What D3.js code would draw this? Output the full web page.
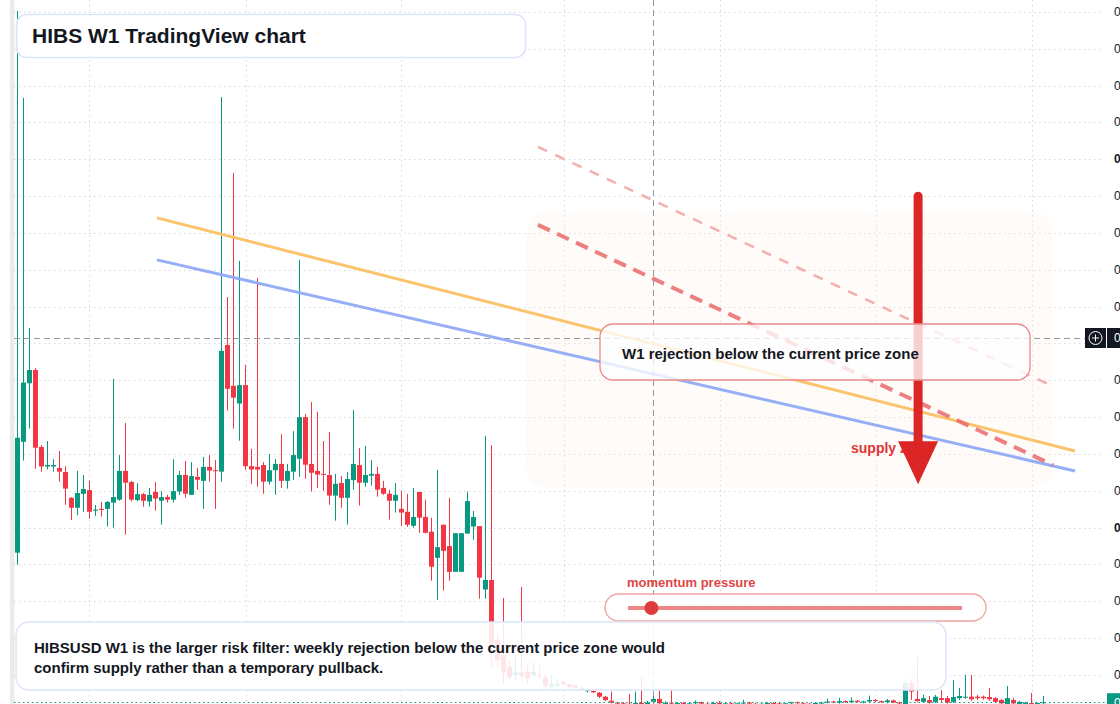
<!DOCTYPE html>
<html><head><meta charset="utf-8">
<script src="https://cdn.jsdelivr.net/npm/d3@7"></script>
<style>html,body{margin:0;padding:0;background:#fff;overflow:hidden}svg{display:block}</style>
</head><body>
<svg id="c" width="1120" height="704"></svg>
<script>
// HIBSUSD weekly candles, prices in millionths of USD (1e-6)
const openP = [43.2,73.3,89.2,92.8,71.9,66.6,66.6,66.2,65.1,58.1,
55.4,59.2,60.2,54.6,55.1,55.1,56.8,57.6,65.4,62.4,
57.5,59.1,57.1,59.7,57.3,58.3,57.6,59.8,64.3,58.9,
63.8,62.7,66.5,65.6,65.2,99.6,88.5,83.7,88.7,66.7,
66.5,67.0,62.5,65.6,67.3,62.7,65.2,68.7,80.0,67.3,
65.4,64.6,64.3,58.7,62.1,58.1,62.9,67.0,62.2,64.1,
64.6,60.8,59.2,57.3,55.1,54.3,50.5,59.7,52.9,48.9,
41.8,50.8,45.0,38.0,38.0,48.4,50.3,50.4,33.2,35.8,
19.5,15.4,12.2,10.0,10.8,10.9,10.0,10.0,9.4,6.8,
7.0,8.1,7.5,7.3,6.5,5.6,5.7,5.2,4.1,3.0,
2.5,2.3,2.2,2.0,2.4,2.1,2.7,3.5,2.1,2.5,
2.2,2.4,2.1,2.3,2.6,2.2,2.0,2.4,2.2,2.3,
2.1,2.3,2.5,2.2,2.1,2.2,2.4,2.3,2.1,2.3,
2.6,2.3,2.2,2.0,2.4,2.5,2.8,2.5,2.9,2.6,
3.0,2.7,2.8,3.2,2.9,2.6,3.1,2.5,2.1,7.8,
3.5,2.7,3.2,2.7,3.7,3.7,2.7,3.7,4.0,4.1,
4.1,4.1,4.0,3.7,3.2,2.1,3.2,2.1,2.1,2.4,
2.2,2.4];
const highP = [190.3,166.7,104.2,93.3,72.4,73.5,68.6,70.8,66.7,58.3,
65.4,64.3,62.7,56.1,57.0,57.2,90.4,69.7,78.4,62.7,
62.1,59.4,60.8,62.4,59.9,58.9,68.6,65.4,68.1,67.8,
66.2,69.2,69.7,68.4,166.9,112.6,146.3,122.4,94.2,71.4,
117.8,67.8,70.0,68.6,75.4,67.3,76.2,122.7,80.9,84.1,
81.4,73.5,76.0,64.6,64.0,65.1,81.9,71.6,72.2,68.4,
66.5,62.7,60.3,62.1,60.0,59.2,60.8,59.7,57.6,52.7,
65.7,50.8,58.1,48.5,48.5,59.8,54.5,50.4,74.9,72.4,
21.1,30.9,13.9,15.4,33.9,12.7,13.5,12.7,10.2,10.0,
8.6,8.4,7.8,7.3,6.7,6.5,5.9,5.4,4.3,5.5,
2.7,2.6,4.8,5.5,9.4,3.0,4.3,5.9,2.9,6.3,
2.6,2.7,2.5,3.1,2.8,2.4,2.6,2.9,2.5,2.5,
2.4,3.3,2.7,2.4,2.3,2.6,2.6,2.5,2.4,2.7,
2.8,2.5,2.4,2.5,2.7,3.6,3.0,3.8,3.1,3.9,
3.2,3.0,4.4,3.4,3.1,3.5,3.3,2.8,8.6,8.9,
15.0,4.6,4.3,4.6,5.9,4.3,8.6,6.5,10.0,10.0,
4.6,4.4,6.5,4.0,3.5,7.0,3.7,3.0,2.7,5.1,
2.5,4.3];
const lowP = [39.9,68.2,76.9,66.0,65.2,65.8,65.2,62.5,56.2,52.1,
53.4,54.3,52.4,53.2,53.0,50.3,50.0,57.3,48.1,57.1,
57.2,55.7,55.7,54.6,50.8,56.8,56.8,58.9,58.1,58.9,
60.3,55.1,62.5,55.1,62.5,81.8,76.9,73.6,65.7,61.9,
61.1,59.2,61.7,58.9,60.8,60.6,63.0,63.8,63.3,59.8,
60.8,60.0,56.2,51.9,55.4,50.8,60.3,56.0,61.1,61.4,
58.4,58.9,52.2,54.1,50.5,50.2,50.0,48.6,48.4,35.6,
30.4,32.9,35.6,38.0,38.0,48.4,46.7,30.7,30.7,11.9,
12.4,7.5,8.6,8.6,8.8,7.5,9.4,9.2,5.9,6.5,
6.7,7.0,6.5,6.2,5.9,5.3,5.1,3.7,2.9,2.3,
2.0,1.9,1.8,1.8,1.8,1.9,2.2,2.0,1.9,1.9,
1.9,2.0,1.9,2.1,2.0,1.9,1.8,2.1,1.9,2.0,
1.8,2.1,2.0,1.9,1.8,2.0,2.1,2.0,1.9,2.1,
2.2,2.0,1.9,1.8,2.2,2.3,2.3,2.2,2.4,2.4,
2.5,2.3,2.5,2.6,2.4,2.3,2.4,2.1,2.1,3.2,
2.6,2.4,2.2,2.4,2.7,2.2,2.4,3.2,3.5,3.0,
3.2,3.3,3.0,2.4,2.0,2.0,2.0,1.9,1.9,2.0,
2.1,2.0];
const closeP = [74.4,89.4,92.8,71.7,66.6,67.0,67.0,65.2,60.6,55.4,
59.4,60.5,54.3,54.9,54.8,57.0,58.3,65.4,62.2,57.6,
59.1,57.3,58.9,57.9,58.3,57.6,59.9,64.3,59.2,64.0,
63.0,66.5,65.5,65.5,98.0,87.7,85.3,88.7,66.7,65.8,
65.8,62.5,65.6,67.3,62.7,65.4,69.7,80.0,67.1,64.9,
64.4,64.4,58.7,61.9,58.1,63.2,67.3,62.2,64.3,64.6,
60.3,59.2,57.3,58.9,54.1,50.8,52.9,52.7,48.6,39.4,
44.7,43.7,38.0,48.5,48.5,57.2,52.9,36.4,35.8,18.1,
14.0,10.8,9.4,10.8,9.7,9.2,10.8,9.7,7.0,7.5,
7.5,7.5,6.7,6.5,6.2,5.9,5.3,4.1,3.2,2.5,
2.2,2.1,2.0,2.4,2.1,2.5,3.5,2.3,2.4,2.2,
2.4,2.1,2.3,2.6,2.2,2.0,2.4,2.2,2.3,2.1,
2.3,2.5,2.2,2.1,2.2,2.4,2.3,2.1,2.3,2.6,
2.3,2.2,2.0,2.4,2.5,2.8,2.5,2.9,2.6,3.0,
2.7,2.8,3.2,2.9,2.6,3.1,2.5,2.3,7.8,5.5,
2.9,3.7,2.5,4.1,3.2,2.5,4.0,4.3,4.1,3.4,
3.7,3.7,3.4,2.7,2.3,3.7,2.3,2.7,2.5,2.2,
2.4,2.6];

const tickValues = [10,20,30,40,50,60,70,80,90,100,110,120,130,140,150,160,170,180,190];
const tickLabels = ["0.00001000","0.00002000","0.00003000","0.00004000","0.00005000","0.00006000","0.00007000","0.00008000","0.00009000","0.00010000","0.00011000","0.00012000","0.00013000","0.00014000","0.00015000","0.00016000","0.00017000","0.00018000","0.00019000"];
const timeGridIdx = [11.9, 38, 64, 91, 117, 143, 169];
const lastPrice = 2.6, lastLabel = "0.00000260";
const crossIdx = 105.9, crossPrice = 101.4, crossLabel = "0.00010140";

// drawings: [startIdx, startPrice, endIdx, endPrice]
const trendOrange = [23.25, 134.1, 176.25, 70.8];
const trendBlue   = [23.25, 122.7, 176.25, 65.4];
const dashStrong  = [86.75, 132.2, 172.6, 67.0];
const dashLight   = [86.75, 153.4, 172.4, 88.5];
const zoneBox     = [84.9, 135.7, 172.4, 61.0];
const arrowDown   = [150.1, 140.0, 61.8];

const titleText = "HIBS W1 TradingView chart";
const noteText = "W1 rejection below the current price zone";
const zoneText = "supply zone";
const momentumText = "momentum pressure";
const momentumValue = 0.07;
const bodyLines = ["HIBSUSD W1 is the larger risk filter: weekly rejection below the current price zone would",
                   "confirm supply rather than a temporary pullback."];

const N = openP.length;
const svg = d3.select('#c');
const font = '"Liberation Sans", Arial, sans-serif';
const UP = '#089981', DN = '#f23645';
const x = d3.scaleLinear().domain([0, N-1]).range([17.5, 17.5 + 6*(N-1)]);
const y = d3.scaleLinear().domain([0, 190]).range([711.8, 12]);

svg.append('rect').attr('width',1120).attr('height',704).attr('fill','#fff');
svg.append('rect').attr('x',10).attr('y',0).attr('width',4.5).attr('height',704).attr('fill','#ebebeb');

// grid
const grid = svg.append('g');
grid.selectAll('line.h').data(tickValues).join('line')
  .attr('x1',14).attr('x2',1103).attr('y1',d=>Math.round(y(d))+0.5).attr('y2',d=>Math.round(y(d))+0.5)
  .attr('stroke','#d6d8dc').attr('stroke-width',1).attr('stroke-dasharray','1.5,3.5');
grid.selectAll('line.v').data(timeGridIdx).join('line')
  .attr('x1',d=>Math.round(x(d))+0.5).attr('x2',d=>Math.round(x(d))+0.5).attr('y1',0).attr('y2',704)
  .attr('stroke','#d6d8dc').attr('stroke-width',1).attr('stroke-dasharray','1.5,3.5');

// zone box
svg.append('rect').attr('x',x(zoneBox[0])).attr('y',y(zoneBox[1]))
  .attr('width',x(zoneBox[2])-x(zoneBox[0])).attr('height',y(zoneBox[3])-y(zoneBox[1]))
  .attr('rx',18).attr('fill','#fdf3ea').attr('opacity',0.3);

// candles
const idx = d3.range(N);
const cg = svg.append('g');
cg.selectAll('line').data(idx).join('line')
  .attr('x1',i=>x(i)).attr('x2',i=>x(i)).attr('y1',i=>y(highP[i])).attr('y2',i=>y(lowP[i]))
  .attr('stroke',i=>closeP[i]>=openP[i]?UP:DN).attr('stroke-width',1);
cg.selectAll('rect').data(idx).join('rect')
  .attr('x',i=>x(i)-2.5).attr('width',5)
  .attr('y',i=>y(Math.max(openP[i],closeP[i])))
  .attr('height',i=>Math.max(1, Math.abs(y(openP[i])-y(closeP[i]))))
  .attr('fill',i=>closeP[i]>=openP[i]?UP:DN);

// crosshair
svg.append('line').attr('x1',14).attr('x2',1085).attr('y1',Math.round(y(crossPrice))+0.5).attr('y2',Math.round(y(crossPrice))+0.5)
  .attr('stroke','#9598a1').attr('stroke-dasharray','6,4').attr('stroke-width',1);
svg.append('line').attr('x1',Math.round(x(crossIdx))+0.5).attr('x2',Math.round(x(crossIdx))+0.5).attr('y1',0).attr('y2',704)
  .attr('stroke','#9598a1').attr('stroke-dasharray','6,4').attr('stroke-width',1);

// trend lines
function seg(a, color, w, dash, op){
  const l = svg.append('line').attr('x1',x(a[0])).attr('y1',y(a[1])).attr('x2',x(a[2])).attr('y2',y(a[3]))
    .attr('stroke',color).attr('stroke-width',w).attr('opacity',op);
  if(dash) l.attr('stroke-dasharray',dash);
}
seg(trendOrange,'#fbbd5c',3,null,0.9);
seg(trendBlue,'#8aa6f6',3,null,0.9);
seg(dashLight,'#f4a0a0',2.5,'10,9',0.85);
seg(dashStrong,'#ea6a6a',4,'13,8',0.85);

// supply zone label + arrow
svg.append('text').attr('x',851).attr('y',453).text(zoneText)
  .attr('font-family',font).attr('font-weight','bold').attr('font-size',14).attr('fill','#e03535');
const ax = x(arrowDown[0]), ay0 = y(arrowDown[1]), ay1 = y(arrowDown[2]);
svg.append('line').attr('x1',ax).attr('x2',ax).attr('y1',ay0).attr('y2',ay1-40)
  .attr('stroke','#dc2626').attr('stroke-width',9).attr('stroke-linecap','round');
svg.append('path').attr('d',`M${ax-20},${ay1-43}L${ax+20},${ay1-43}L${ax},${ay1}Z`).attr('fill','#dc2626');

// note box
svg.append('rect').attr('x',600).attr('y',324).attr('width',430).attr('height',56).attr('rx',13)
  .attr('fill','#fff').attr('fill-opacity',0.78).attr('stroke','#ec8a8a').attr('stroke-width',1.3);
svg.append('text').attr('x',622).attr('y',359).text(noteText)
  .attr('font-family',font).attr('font-weight','bold').attr('font-size',15).attr('fill','#131722');

// momentum
svg.append('text').attr('x',627).attr('y',587).text(momentumText)
  .attr('font-family',font).attr('font-weight','bold').attr('font-size',13).attr('fill','#e04646');
svg.append('rect').attr('x',605).attr('y',594).attr('width',381).attr('height',27).attr('rx',13.5)
  .attr('fill','#fff').attr('fill-opacity',0.9).attr('stroke','#f0a3a3').attr('stroke-width',1.3);
const mx = d3.scaleLinear().domain([0,1]).range([628,962]);
svg.append('line').attr('x1',mx(0)).attr('x2',mx(1)).attr('y1',608).attr('y2',608)
  .attr('stroke','#ec8585').attr('stroke-width',4);
svg.append('circle').attr('cx',mx(momentumValue)).attr('cy',608).attr('r',7).attr('fill','#e03c3c');

// bottom note
svg.append('rect').attr('x',16).attr('y',622).attr('width',930).attr('height',68).attr('rx',13)
  .attr('fill','#fff').attr('fill-opacity',0.88).attr('stroke','#dce6fa').attr('stroke-width',1.5);
svg.selectAll('text.body').data(bodyLines).join('text').attr('class','body')
  .attr('x',34).attr('y',(d,i)=>653+i*20).text(d=>d)
  .attr('font-family',font).attr('font-weight','bold').attr('font-size',15).attr('fill','#131722');

// title
svg.append('rect').attr('x',16.5).attr('y',14.5).attr('width',509).attr('height',43).attr('rx',10)
  .attr('fill','#fff').attr('fill-opacity',0.92).attr('stroke','#dce6fa').attr('stroke-width',1.5);
svg.append('text').attr('x',32).attr('y',43).text(titleText)
  .attr('font-family',font).attr('font-weight','bold').attr('font-size',21).attr('fill','#131722');

// price axis labels
svg.selectAll('text.tick').data(tickValues).join('text').attr('class','tick')
  .attr('x',1114).attr('y',d=>y(d)+4).text((d,i)=>tickLabels[i])
  .attr('font-family',font).attr('font-size',12)
  .attr('font-weight',d=>(d===150||d===50)?'bold':'normal').attr('fill','#131722');

// last price
svg.append('line').attr('x1',14).attr('x2',1105).attr('y1',Math.round(y(lastPrice))+0.5).attr('y2',Math.round(y(lastPrice))+0.5)
  .attr('stroke',UP).attr('stroke-width',1).attr('stroke-dasharray','1.5,3');
svg.append('rect').attr('x',1107).attr('y',y(lastPrice)-9).attr('width',13).attr('height',20).attr('fill',UP);
svg.append('text').attr('x',1114).attr('y',y(lastPrice)+5).text(lastLabel)
  .attr('font-family',font).attr('font-size',12).attr('fill','#fff');

// crosshair label
const cy = Math.round(y(crossPrice));
svg.append('rect').attr('x',1085).attr('y',cy-10).attr('width',21).attr('height',20).attr('fill','#131722');
svg.append('circle').attr('cx',1095.5).attr('cy',cy).attr('r',6.5).attr('fill','none').attr('stroke','#fff').attr('stroke-width',1);
svg.append('path').attr('d',`M1092,${cy}H1099M1095.5,${cy-3.5}V${cy+3.5}`).attr('stroke','#fff').attr('stroke-width',1);
svg.append('rect').attr('x',1107).attr('y',cy-10).attr('width',13).attr('height',20).attr('fill','#131722');
svg.append('text').attr('x',1114).attr('y',cy+4).text(crossLabel)
  .attr('font-family',font).attr('font-size',12).attr('fill','#fff');
</script>
</body></html>
